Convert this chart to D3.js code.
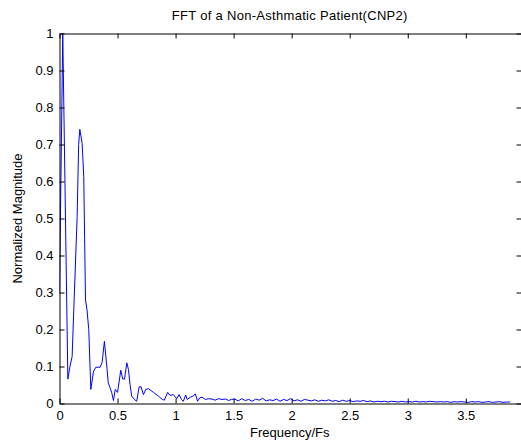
<!DOCTYPE html>
<html>
<head>
<meta charset="utf-8">
<script src="https://cdn.jsdelivr.net/npm/d3@7"></script>
<style>
  html, body { margin: 0; padding: 0; background: #fff; }
  svg { display: block; }
  text { font-family: "Liberation Sans", Arial, Helvetica, sans-serif; fill: #000; }
</style>
</head>
<body>
<svg id="chart" width="521" height="441"></svg>
<script>
const titleText = "FFT of a Non-Asthmatic Patient(CNP2)";
const xLabelText = "Frequency/Fs";
const yLabelText = "Normalized Magnitude";

const xTicks = [0, 0.5, 1, 1.5, 2, 2.5, 3, 3.5];
const xTickLabels = ["0", "0.5", "1", "1.5", "2", "2.5", "3", "3.5"];
const yTicks = [0, 0.1, 0.2, 0.3, 0.4, 0.5, 0.6, 0.7, 0.8, 0.9, 1];
const yTickLabels = ["0", "0.1", "0.2", "0.3", "0.4", "0.5", "0.6", "0.7", "0.8", "0.9", "1"];

const freq = [
  0, 0.028, 0.072, 0.09, 0.109, 0.123, 0.152, 0.165, 0.175, 0.195, 0.209, 0.224, 0.237, 0.252, 0.27,
  0.293, 0.313, 0.35, 0.367, 0.387, 0.41, 0.42, 0.436, 0.45, 0.465, 0.48, 0.50, 0.528, 0.545, 0.56,
  0.58, 0.594, 0.608, 0.622, 0.645, 0.665, 0.686, 0.703, 0.723, 0.743, 0.766, 0.81, 0.852, 0.886,
  0.903, 0.932, 0.952, 0.981, 1.01, 1.03, 1.05, 1.067, 1.087, 1.10, 1.127, 1.15, 1.17, 1.19, 1.207,
  1.228, 1.256, 1.285, 1.314, 1.34, 1.37, 1.40, 1.43, 1.457, 1.48,
  1.51, 1.54, 1.57, 1.60, 1.63, 1.66, 1.69, 1.72, 1.75, 1.78, 1.81, 1.84, 1.87, 1.90, 1.93, 1.96,
  1.99, 2.02, 2.05, 2.08, 2.11, 2.14, 2.17, 2.20, 2.23, 2.26, 2.29, 2.32, 2.35, 2.38, 2.41, 2.44,
  2.47, 2.50, 2.53, 2.56, 2.59, 2.62, 2.65, 2.68, 2.71, 2.74, 2.77, 2.80, 2.83, 2.86, 2.89, 2.92,
  2.95, 2.98, 3.01, 3.04, 3.07, 3.10, 3.13, 3.16, 3.19, 3.22, 3.25, 3.28, 3.31, 3.34, 3.37, 3.40,
  3.43, 3.46, 3.49, 3.52, 3.55, 3.58, 3.61, 3.64, 3.67, 3.70, 3.73, 3.76, 3.79, 3.82, 3.85, 3.88
];
const magnitude = [
  0.30, 1.0, 0.066, 0.10, 0.127, 0.253, 0.505, 0.70, 0.741, 0.703, 0.613, 0.28, 0.253, 0.20, 0.038,
  0.087, 0.098, 0.098, 0.111, 0.168, 0.092, 0.056, 0.042, 0.029, 0.008, 0.038, 0.03, 0.09, 0.066, 0.066,
  0.11, 0.092, 0.051, 0.02, 0.011, 0.006, 0.045, 0.045, 0.024, 0.038, 0.04, 0.03, 0.02, 0.011,
  0.009, 0.03, 0.022, 0.024, 0.013, 0.024, 0.011, 0.006, 0.023, 0.011, 0.017, 0.02, 0.026, 0.006, 0.015,
  0.017, 0.011, 0.013, 0.012, 0.009, 0.013, 0.011, 0.012, 0.008, 0.011,
  0.012, 0.007, 0.013, 0.008, 0.011, 0.006, 0.012, 0.009, 0.014, 0.007, 0.010, 0.008, 0.012, 0.006, 0.011, 0.008,
  0.013, 0.007, 0.010, 0.006, 0.011, 0.009, 0.007, 0.010, 0.006, 0.009, 0.007, 0.010, 0.006, 0.008, 0.005, 0.009,
  0.006, 0.008, 0.005, 0.007, 0.006, 0.008, 0.005, 0.007, 0.004, 0.006, 0.005, 0.006, 0.004, 0.006, 0.005, 0.004,
  0.006, 0.004, 0.005, 0.004, 0.006, 0.004, 0.005, 0.004, 0.006, 0.005, 0.004, 0.005, 0.004, 0.005, 0.003, 0.005,
  0.004, 0.005, 0.004, 0.003, 0.005, 0.004, 0.005, 0.003, 0.004, 0.005, 0.003, 0.004, 0.005, 0.003, 0.004, 0.004
];

const box = { left: 59.5, top: 33.5, right: 521.5, bottom: 403.5 };
const svg = d3.select("#chart");

const x = d3.scaleLinear().domain([0, 3.98]).range([box.left, box.right]);
const y = d3.scaleLinear().domain([0, 1]).range([box.bottom, box.top]);
const tickLen = 5;
const fs = "13px";

svg.append("defs").append("clipPath").attr("id", "clip")
  .append("rect").attr("x", box.left).attr("y", box.top - 1)
  .attr("width", box.right - box.left).attr("height", box.bottom - box.top + 2);

const pts = freq.map((f, i) => [f, magnitude[i]]);
svg.append("path")
  .datum(pts)
  .attr("clip-path", "url(#clip)")
  .attr("fill", "none")
  .attr("stroke", "#0000ff")
  .attr("stroke-width", 1)
  .attr("stroke-linejoin", "round")
  .attr("d", d3.line().x(d => x(d[0])).y(d => y(d[1])));

const xAxisB = d3.axisBottom(x).tickValues(xTicks).tickSizeInner(-tickLen).tickSizeOuter(0)
  .tickPadding(7.5).tickFormat((d, i) => xTickLabels[i]);
const xAxisT = d3.axisTop(x).tickValues(xTicks).tickSizeInner(-tickLen).tickSizeOuter(0).tickFormat("");
const yAxisL = d3.axisLeft(y).tickValues(yTicks).tickSizeInner(-tickLen).tickSizeOuter(0)
  .tickPadding(6).tickFormat((d, i) => yTickLabels[i]);
const yAxisR = d3.axisRight(y).tickValues(yTicks).tickSizeInner(-tickLen).tickSizeOuter(0).tickFormat("");

function style(g) {
  g.selectAll(".domain").attr("stroke", "#000").attr("stroke-width", 1);
  g.selectAll(".tick line").attr("stroke", "#000").attr("stroke-width", 1);
  g.selectAll(".tick text").style("font-size", fs).style("font-family", "'Liberation Sans', Arial, sans-serif").attr("fill", "#000");
}

svg.append("g").attr("transform", `translate(0,${box.bottom})`).call(xAxisB).call(style);
svg.append("g").attr("transform", `translate(0,${box.top})`).call(xAxisT).call(style);
svg.append("g").attr("transform", `translate(${box.left},0)`).call(yAxisL).call(style);
svg.append("g").attr("transform", `translate(${box.right},0)`).call(yAxisR).call(style);

svg.append("text").attr("x", (box.left + 520) / 2).attr("y", 20)
  .attr("text-anchor", "middle").style("font-size", fs).style("letter-spacing", "0.3px").text(titleText);
svg.append("text").attr("x", (box.left + 520) / 2).attr("y", 437)
  .attr("text-anchor", "middle").style("font-size", fs).text(xLabelText);
svg.append("text").attr("transform", `translate(21.5,${(box.top + box.bottom) / 2}) rotate(-90)`)
  .attr("text-anchor", "middle").style("font-size", fs).text(yLabelText);
</script>
</body>
</html>
